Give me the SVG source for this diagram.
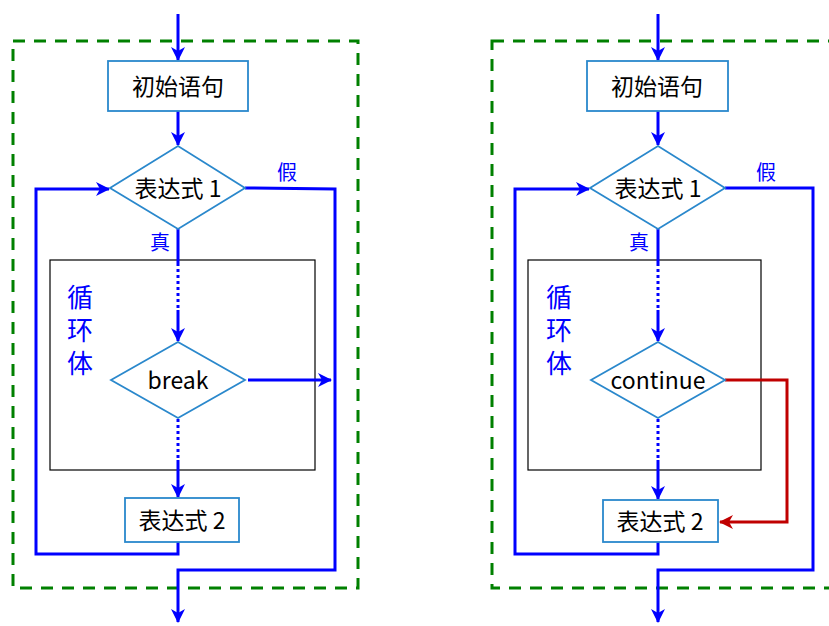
<svg xmlns="http://www.w3.org/2000/svg" width="829" height="626" viewBox="0 0 829 626">
<style>
.frame{fill:none;stroke:#008000;stroke-width:3;stroke-dasharray:12 9}
.body{fill:none;stroke:#000;stroke-width:1.2}
.box{fill:#fff;stroke:#2A88CC;stroke-width:1.8}
.c{fill:none;stroke:#0000FF;stroke-width:3}
.dot{fill:none;stroke:#0000FF;stroke-width:3;stroke-dasharray:3 3}
.red{fill:none;stroke:#C00000;stroke-width:3}
.t{font-family:"Noto Sans CJK SC","Liberation Sans",sans-serif;font-size:23px;fill:#000;text-anchor:middle;dominant-baseline:central}
.lb{font-family:"Noto Sans CJK SC","Liberation Sans",sans-serif;font-size:20px;fill:#0000FF;text-anchor:middle}
.lv{font-family:"Noto Sans CJK SC","Liberation Sans",sans-serif;font-size:26px;fill:#0000FF;writing-mode:vertical-rl;letter-spacing:7px}
</style>
<defs>
<marker id="ab" markerWidth="14" markerHeight="14" refX="13" refY="7" orient="auto" markerUnits="userSpaceOnUse">
<path d="M0,0 L14,7 L0,14 L4,7 Z" fill="#0000FF"/>
</marker>
<marker id="ar" markerWidth="14" markerHeight="14" refX="13" refY="7" orient="auto" markerUnits="userSpaceOnUse">
<path d="M0,0 L14,7 L0,14 L4,7 Z" fill="#C00000"/>
</marker>
</defs>

<!-- Left: break -->
<g id="left-frame"><rect class="frame" x="13" y="41" width="345" height="547"/></g>
<g id="left-body"><rect class="body" x="50" y="260" width="265" height="210"/>
<text class="lv" x="80" y="284">循环体</text></g>

<g id="left-connectors">
<line class="c" x1="178" y1="14" x2="178" y2="60" marker-end="url(#ab)"/>
<line class="c" x1="178" y1="111" x2="178" y2="145" marker-end="url(#ab)"/>
<polyline class="c" points="245,188 335,189 335,570 178,570 178,622" marker-end="url(#ab)"/>
<polyline class="c" points="178,542 178,554 36,554 36,189 109,189" marker-end="url(#ab)"/>
<line class="c" x1="178" y1="229" x2="178" y2="263"/>
<line class="dot" x1="178" y1="263" x2="178" y2="310"/>
<line class="c" x1="178" y1="310" x2="178" y2="341" marker-end="url(#ab)"/>
<line class="dot" x1="178" y1="419" x2="178" y2="460"/>
<line class="c" x1="178" y1="460" x2="178" y2="497" marker-end="url(#ab)"/>
<line class="c" x1="248" y1="380" x2="331" y2="380" marker-end="url(#ab)"/>
<text class="lb" x="287" y="180">假</text>
<text class="lb" x="160" y="250">真</text>
</g>

<g id="left-init"><rect class="box" x="108" y="61" width="140" height="50"/><text class="t" x="178" y="85">初始语句</text></g>
<g id="left-cond1"><polygon class="box" points="110,188 178,146 245,188 178,229"/><text class="t" x="178" y="187">表达式 1</text></g>
<g id="left-break"><polygon class="box" points="111,380 178,342 245,380 178,418"/><text class="t" x="178" y="379">break</text></g>
<g id="left-expr2"><rect class="box" x="125" y="498" width="114" height="44"/><text class="t" x="182" y="519">表达式 2</text></g>

<!-- Right: continue -->
<g id="right-frame"><rect class="frame" x="492" y="41" width="350" height="547"/></g>
<g id="right-body"><rect class="body" x="528" y="260" width="233" height="210"/>
<text class="lv" x="559" y="284">循环体</text></g>

<g id="right-connectors">
<line class="c" x1="658" y1="14" x2="658" y2="60" marker-end="url(#ab)"/>
<line class="c" x1="658" y1="111" x2="658" y2="145" marker-end="url(#ab)"/>
<polyline class="c" points="725,188 813,188 813,570 658,570 658,622" marker-end="url(#ab)"/>
<polyline class="c" points="658,542 658,554 515,554 515,189 589,189" marker-end="url(#ab)"/>
<line class="c" x1="658" y1="229" x2="658" y2="263"/>
<line class="dot" x1="658" y1="263" x2="658" y2="310"/>
<line class="c" x1="658" y1="310" x2="658" y2="341" marker-end="url(#ab)"/>
<line class="dot" x1="658" y1="419" x2="658" y2="460"/>
<line class="c" x1="658" y1="460" x2="658" y2="499" marker-end="url(#ab)"/>
<polyline class="red" points="725,380 787,380 787,522 720,522" marker-end="url(#ar)"/>
<text class="lb" x="766" y="180">假</text>
<text class="lb" x="639" y="250">真</text>
</g>

<g id="right-init"><rect class="box" x="587" y="61" width="141" height="50"/><text class="t" x="657" y="85">初始语句</text></g>
<g id="right-cond1"><polygon class="box" points="590,188 658,146 725,188 658,229"/><text class="t" x="658" y="187">表达式 1</text></g>
<g id="right-continue"><polygon class="box" points="591,380 658,342 725,380 658,418"/><text class="t" x="658" y="379">continue</text></g>
<g id="right-expr2"><rect class="box" x="603" y="500" width="115" height="42"/><text class="t" x="660" y="520">表达式 2</text></g>
</svg>
